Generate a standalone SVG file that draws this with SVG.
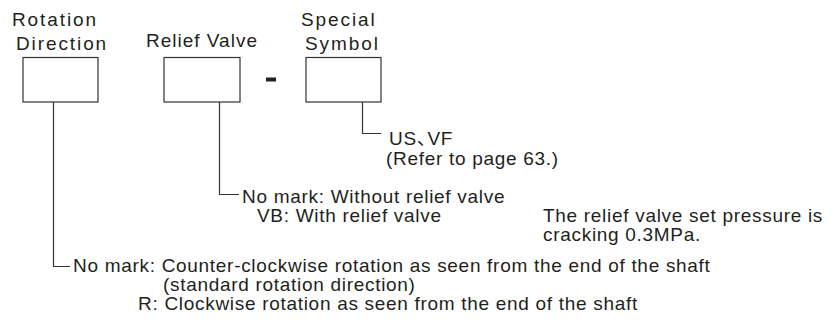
<svg xmlns="http://www.w3.org/2000/svg" width="839" height="329" viewBox="0 0 839 329">
<style>
text{font-family:"Liberation Sans","Noto Sans CJK JP",Arial,sans-serif;fill:#231f20}
.lbl{font-size:19px;letter-spacing:1.9px}
.lbl2{font-size:19px;letter-spacing:1px}
.t{font-size:19px;letter-spacing:0.7px}
.box{fill:#fff;stroke:#333;stroke-width:1.2}
.ln{fill:none;stroke:#333;stroke-width:1.2}
</style>
<rect width="839" height="329" fill="#fff"/>
<g id="rotation">
<text class="lbl" x="12" y="26">Rotation</text>
<text class="lbl" x="16" y="50">Direction</text>
<rect class="box" x="23" y="57.5" width="75" height="44.5"/>
</g>
<g id="relief">
<text class="lbl2" x="146" y="47">Relief Valve</text>
<rect class="box" x="164" y="57.5" width="76" height="44.5"/>
</g>
<g id="dash">
<rect x="266" y="77.5" width="10" height="4" fill="#231f20"/>
</g>
<g id="special">
<text class="lbl" x="301" y="26">Special</text>
<text class="lbl" x="305" y="50">Symbol</text>
<rect class="box" x="306" y="57.5" width="75" height="44.5"/>
</g>
<g id="connectors">
<path class="ln" d="M362.5 102V133.5H381"/>
<path class="ln" d="M219.5 102V194.5H239"/>
<path class="ln" d="M53.5 102V266.5H70"/>
</g>
<g id="special-notes">
<text class="t" x="389" y="145">US、<tspan dx="-9">VF</tspan></text>
<text class="t" x="386" y="165">(Refer to page 63.)</text>
</g>
<g id="relief-notes">
<text class="t" x="242" y="203">No mark: Without relief valve</text>
<text class="t" x="257" y="222">VB: With relief valve</text>
<text class="t" x="543" y="222">The relief valve set pressure is</text>
<text class="t" x="543" y="241">cracking 0.3MPa.</text>
</g>
<g id="rotation-notes">
<text class="t" x="73" y="272">No mark: Counter-clockwise rotation as seen from the end of the shaft</text>
<text class="t" x="163" y="291">(standard rotation direction)</text>
<text class="t" x="138" y="310">R: Clockwise rotation as seen from the end of the shaft</text>
</g>
</svg>
